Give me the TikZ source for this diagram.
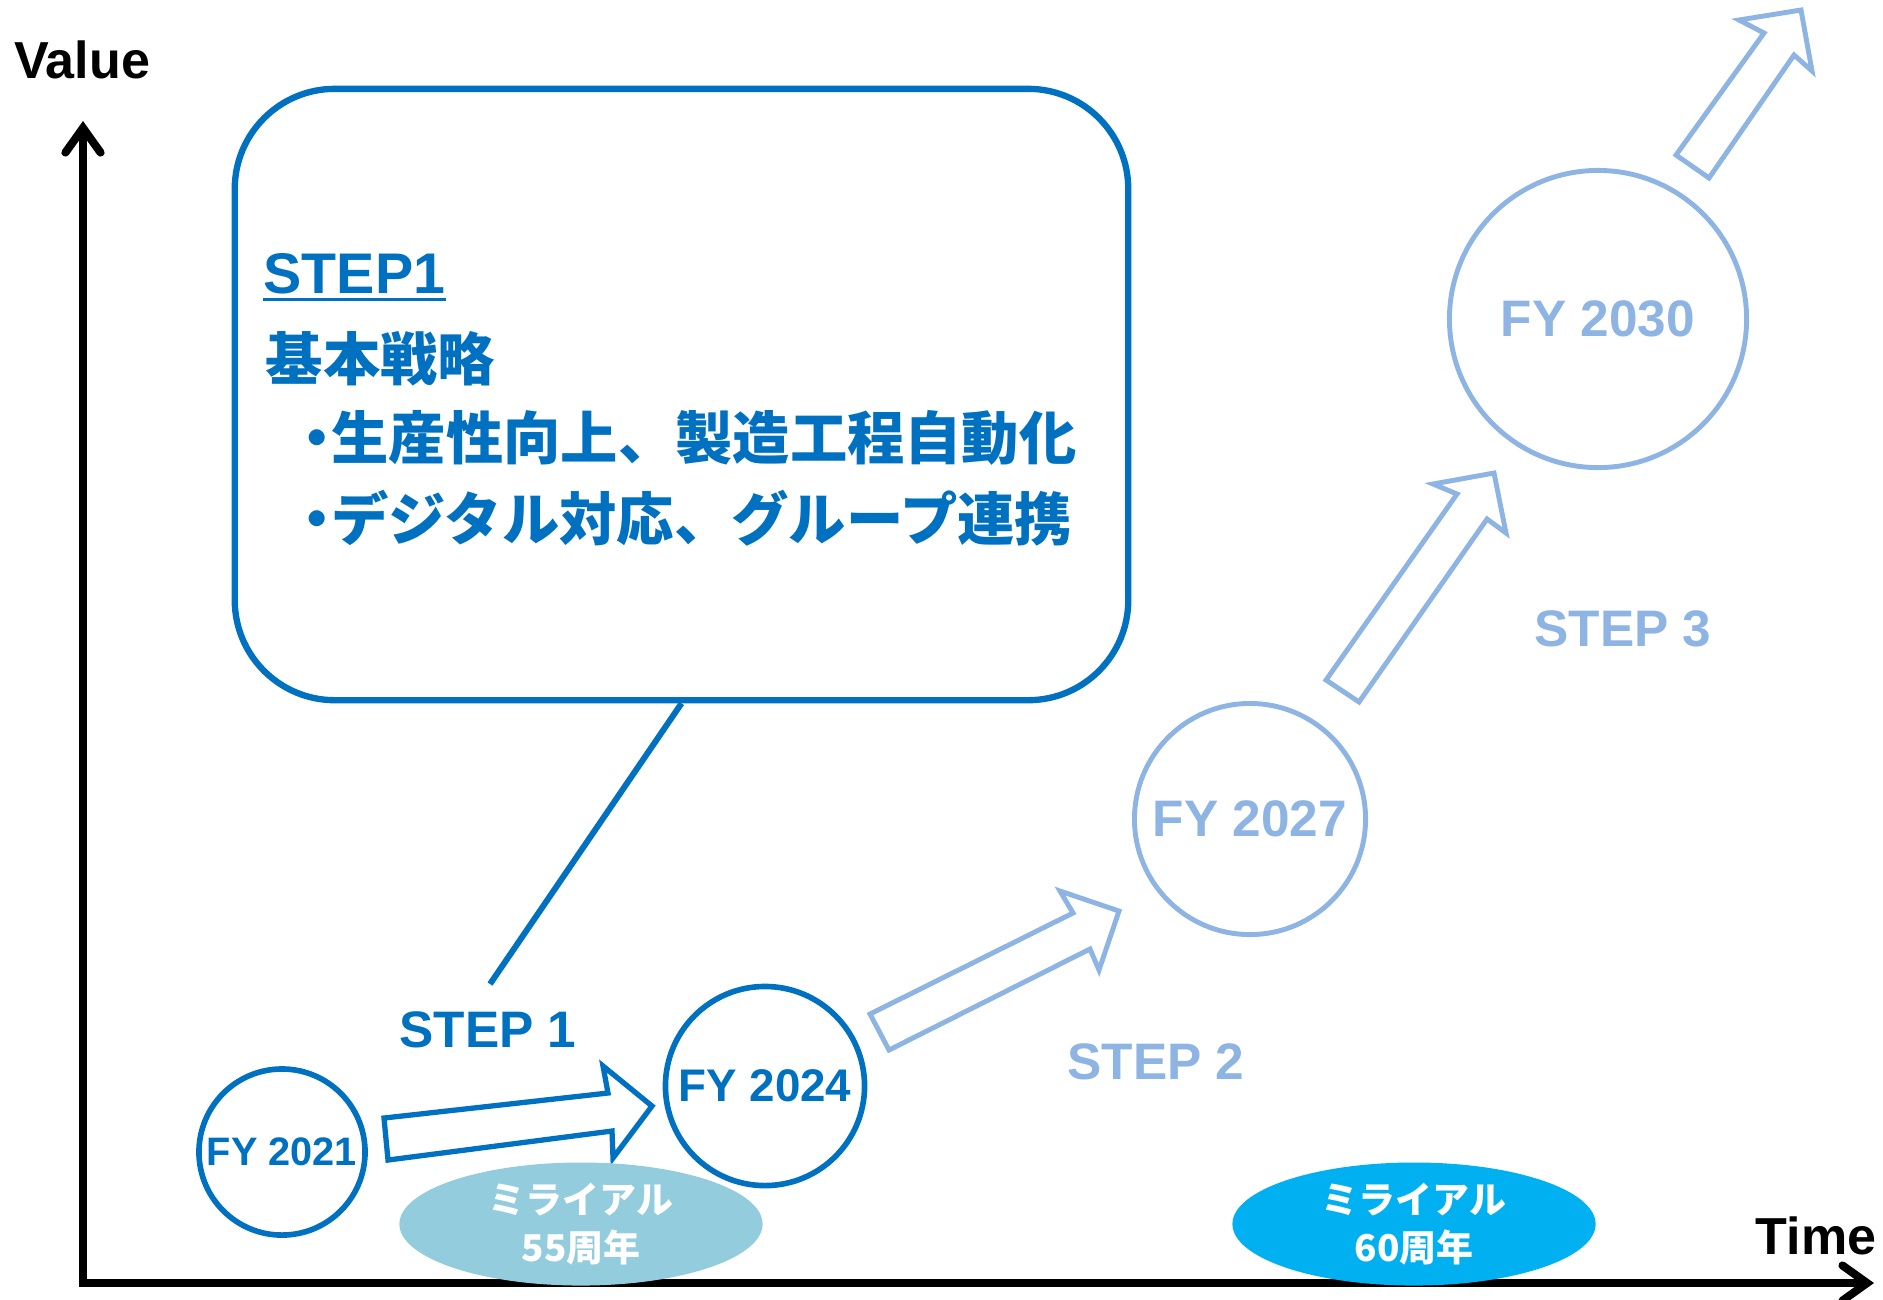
\documentclass[tikz,border=0pt]{standalone}
\usepackage{fontspec}
\setmainfont{Liberation Sans}
\newfontfamily\cjk{Noto Sans CJK JP}
\newfontfamily\cjkp{Noto Sans CJK JP}[RawFeature=+palt]
\usetikzlibrary{arrows.meta,shapes.geometric}
\definecolor{dblue}{HTML}{0070C0}
\definecolor{lblue}{HTML}{8EB4E3}
\definecolor{aqua}{HTML}{93CDDD}
\definecolor{cyanb}{HTML}{00B0F0}
\begin{document}
\begin{tikzpicture}[x=0.01cm,y=-0.01cm,
  axis/.style={line width=2.3pt, black, line cap=round, line join=miter},
  fydark/.style={circle, draw=dblue, line width=1.6pt, text=dblue, inner sep=0pt},
  fylight/.style={circle, draw=lblue, line width=1.4pt, text=lblue, inner sep=0pt},
  blockdark/.style={draw=dblue, fill=white, line width=1.5pt, line join=miter},
  blocklight/.style={draw=lblue, fill=white, line width=1.4pt, line join=miter},
  anniv/.style={ellipse, inner sep=0pt, minimum width=3.63cm, minimum height=1.23cm, text=white, align=center, font=\cjk\bfseries\fontsize{10.5}{13.4}\selectfont},
  steplbl/.style={font=\bfseries\fontsize{14.6}{17}\selectfont, inner sep=0pt},
  axlbl/.style={font=\bfseries\fontsize{14.8}{17}\selectfont, inner sep=0pt},
  cjktext/.style={anchor=west, text=dblue, inner sep=0pt, font=\cjk\bfseries\fontsize{16.3}{19}\selectfont},
]
\useasboundingbox (0,0) rectangle (1883,1299);

% axes
\coordinate (ytop) at (83,121);
\coordinate (origin) at (83,1283);
\coordinate (xend) at (1874,1283);
\draw[axis, arrows={Straight Barb[length=7pt,width=10pt,line cap=round]-Straight Barb[length=7pt,width=10pt,line cap=round]}] (ytop) -- (origin) -- (xend);
\node[axlbl] (value) at (82,60) {Value};
\node[axlbl] (time) at (1816,1236) {Time};

% callout
\node[draw=dblue, line width=1.8pt, rounded corners=1cm, minimum width=8.93cm, minimum height=6.11cm, inner sep=0pt] (callout) at (681.5,394.5) {};
\coordinate (calloutend) at (490,984);
\draw[dblue, line width=1.7pt] (callout.south) -- (calloutend);

\node[anchor=base west, text=dblue, font=\bfseries\fontsize{16.3}{19}\selectfont, inner sep=0pt] (step1title) at (263,293) {STEP1};
\draw[dblue, line width=0.85pt] ([yshift=-0.06cm]step1title.base west) -- ([yshift=-0.06cm]step1title.base east);
\node[cjktext] (strategy) at (265,359) {基本戦略};
\node[cjktext] (item1) at (302,438) {{\cjkp ・}生産性向上、製造工程自動化};
\node[cjktext] (item2) at (302,518) {{\cjkp ・}デジタル対応、グループ連携};

% circles
\node[fydark, minimum size=1.66cm, font=\bfseries\fontsize{11.3}{13}\selectfont] (fy21) at (282,1152) {FY 2021};
\node[fydark, minimum size=1.99cm, font=\bfseries\fontsize{13}{15}\selectfont] (fy24) at (765,1086) {FY 2024};
\node[fylight, minimum size=2.31cm, font=\bfseries\fontsize{14.6}{17}\selectfont] (fy27) at (1250,819) {FY 2027};
\node[fylight, minimum size=2.97cm, font=\bfseries\fontsize{14.6}{17}\selectfont] (fy30) at (1598,319) {FY 2030};

% block arrows
\draw[blockdark] (384,1118) -- (608,1093) -- (603,1066) -- (652,1106) -- (613,1158) -- (612,1131) -- (388,1160) -- cycle;
\draw[blocklight] (870,1014) -- (1073,913) -- (1060,891) -- (1119,911) -- (1099,970) -- (1090,949) -- (889,1050) -- cycle;
\draw[blocklight] (1326,680) -- (1457,494) -- (1433,484) -- (1494,473) -- (1506,533) -- (1487,519) -- (1359,702) -- cycle;
\draw[blocklight] (1676,155) -- (1764,33) -- (1739,20) -- (1801,10) -- (1812,71) -- (1794,55) -- (1709,178) -- cycle;

% step labels
\node[steplbl, text=dblue] (s1) at (488,1030) {STEP 1};
\node[steplbl, text=lblue] (s2) at (1156,1062) {STEP 2};
\node[steplbl, text=lblue] (s3) at (1623,629) {STEP 3};

% anniversaries
\node[anniv, fill=aqua] (a55) at (581,1224) {ミライアル\\55周年};
\node[anniv, fill=cyanb] (a60) at (1414,1224) {ミライアル\\60周年};
\end{tikzpicture}
\end{document}
